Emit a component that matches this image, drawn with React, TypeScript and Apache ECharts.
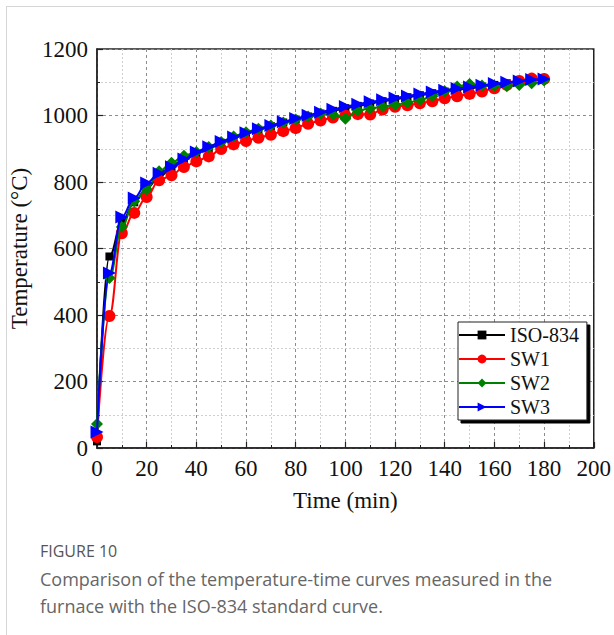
import React, { useEffect, useRef } from "react";
import * as echarts from "echarts";

const times = [0,5,10,15,20,25,30,35,40,45,50,55,60,65,70,75,80,85,90,95,100,105,110,115,120,125,130,135,140,145,150,155,160,165,170,175,180];
const iso834 = [20,576,678,739,781,815,842,865,885,902,918,932,945,957,968,979,988,997,1006,1014,1022,1029,1036,1043,1049,1055,1061,1067,1072,1077,1082,1087,1092,1097,1101,1106,1110];
const sw1 = [33,397,646,707,755,805,820,845,862,877,899,913,923,933,942,953,962,975,985,994,1000,1004,1003,1018,1026,1031,1037,1043,1052,1058,1065,1072,1082,1092,1104,1111,1110];
const sw2 = [72,511,665,742,778,832,858,879,890,905,920,937,950,960,970,979,988,997,1006,1003,990,1015,1021,1027,1032,1038,1047,1058,1073,1087,1095,1090,1089,1088,1092,1097,1105];
const sw3 = [48,526,695,752,797,826,846,869,890,906,922,935,948,960,970,981,991,1001,1010,1019,1027,1034,1041,1047,1053,1059,1065,1071,1076,1081,1086,1091,1096,1100,1104,1108,1110];

const seriesNames = ["ISO-834", "SW1", "SW2", "SW3"];
const seriesColors = ["#000000", "#ff0000", "#008000", "#0000ff"];
const xTitle = "Time (min)";
const yTitle = "Temperature (°C)";
const captionTitle = "FIGURE 10";
const captionLines = [
  "Comparison of the temperature-time curves measured in the",
  "furnace with the ISO-834 standard curve.",
];

const serif = "'Liberation Serif', 'Times New Roman', serif";
const sans = "'Open Sans', 'Noto Sans', sans-serif";

function pairs(vals: number[]) {
  return times.map((t, i) => [t, vals[i]]);
}

export default function App() {
  const ref = useRef<HTMLDivElement>(null);
  useEffect(() => {
    if (!ref.current) return;
    const chart = echarts.init(ref.current, undefined, { renderer: "svg" });
    const symbols = ["rect", "circle", "diamond", "triangle"];
    const sizes = [8, 12, 12, 13];
    const rotates = [0, 0, 0, -90];
    const datas = [iso834, sw1, sw2, sw3];
    const axisLabelStyle = { fontFamily: serif, fontSize: 23, color: "#111", formatter: (v: number) => String(v) };
    chart.setOption({
      animation: false,
      backgroundColor: "transparent",
      grid: {
        left: 97,
        right: 19,
        top: 49,
        bottom: 187,
        show: true,
        borderColor: "#222",
        borderWidth: 1.5,
        containLabel: false,
      },
      legend: {
        orient: "vertical",
        left: 458,
        top: 322,
        data: seriesNames,
        itemWidth: 46,
        itemHeight: 11,
        itemGap: 4,
        padding: [3, 8, 3, 0],
        backgroundColor: "#fff",
        borderColor: "#222",
        borderWidth: 1,
        borderRadius: 0,
        shadowColor: "#000",
        shadowBlur: 0,
        shadowOffsetX: 3,
        shadowOffsetY: 3,
        textStyle: { fontFamily: serif, fontSize: 20, color: "#111" },
      },
      xAxis: {
        type: "value",
        min: 0,
        max: 200,
        interval: 20,
        name: xTitle,
        nameLocation: "middle",
        nameGap: 41,
        nameTextStyle: { fontFamily: serif, fontSize: 23, color: "#111" },
        axisLine: { show: true, lineStyle: { color: "#222", width: 1.5 } },
        axisTick: { show: true, inside: true, length: 6, lineStyle: { color: "#222", width: 1.2 } },
        minorTick: { show: true, splitNumber: 2, length: 3, lineStyle: { color: "#222" } },
        axisLabel: { ...axisLabelStyle, margin: 9 },
        splitLine: { show: true, lineStyle: { type: [3, 3], color: "#8c8c8c", width: 1 } },
        minorSplitLine: { show: true, lineStyle: { type: [2, 2], color: "#cfcfcf", width: 1 } },
      },
      yAxis: {
        type: "value",
        min: 0,
        max: 1200,
        interval: 200,
        name: yTitle,
        nameLocation: "middle",
        nameGap: 64,
        nameTextStyle: { fontFamily: serif, fontSize: 23, color: "#111" },
        axisLine: { show: true, lineStyle: { color: "#222", width: 1.5 } },
        axisTick: { show: true, inside: true, length: 6, lineStyle: { color: "#222", width: 1.2 } },
        minorTick: { show: true, splitNumber: 2, length: 3, lineStyle: { color: "#222" } },
        axisLabel: { ...axisLabelStyle, margin: 9 },
        splitLine: { show: true, lineStyle: { type: [3, 3], color: "#8c8c8c", width: 1 } },
        minorSplitLine: { show: true, lineStyle: { type: [2, 2], color: "#cfcfcf", width: 1 } },
      },
      series: seriesNames.map((name, i) => ({
        name,
        type: "line",
        data: pairs(datas[i]),
        smooth: 0.4,
        smoothMonotone: "x",
        symbol: symbols[i],
        symbolSize: sizes[i],
        symbolRotate: rotates[i],
        showAllSymbol: true,
        color: seriesColors[i],
        lineStyle: { color: seriesColors[i], width: 2 },
        itemStyle: { color: seriesColors[i], borderWidth: 0 },
        z: 2 + i,
      })),
      graphic: [
        {
          type: "text",
          left: 40,
          top: 543,
          style: { text: captionTitle, fontFamily: sans, fontSize: 16, fill: "#555", fontWeight: 400 },
        },
        {
          type: "text",
          left: 40,
          top: 570,
          style: { text: captionLines[0], fontFamily: sans, fontSize: 18, fill: "#666" },
        },
        {
          type: "text",
          left: 40,
          top: 597,
          style: { text: captionLines[1], fontFamily: sans, fontSize: 18, fill: "#666" },
        },
      ],
    });
    return () => chart.dispose();
  }, []);

  return (
    <div style={{ position: "fixed", left: 0, top: 0, width: 614, height: 635, background: "#fff", overflow: "hidden" }}>
      <div
        style={{
          position: "absolute",
          left: 6,
          top: 6,
          width: 640,
          height: 660,
          borderLeft: "1.5px solid #d6d6d6",
          borderTop: "1.5px solid #d6d6d6",
        }}
      />
      <div ref={ref} style={{ position: "absolute", left: 0, top: 0, width: 614, height: 635 }} />
    </div>
  );
}
